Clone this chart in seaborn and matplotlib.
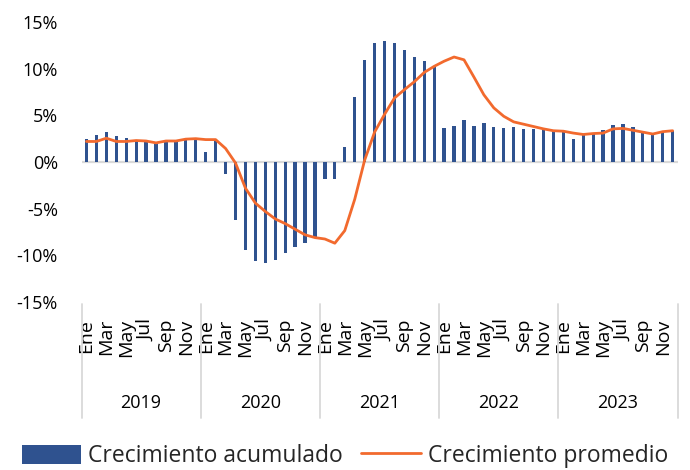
import numpy as np
import pandas as pd
import matplotlib
matplotlib.use("Agg")
import matplotlib.pyplot as plt
import matplotlib.transforms as mtransforms
from matplotlib.patches import Patch
from matplotlib.lines import Line2D
from matplotlib.ticker import FuncFormatter
import seaborn as sns

years = ["2019", "2020", "2021", "2022", "2023"]
months = ["Ene", "Feb", "Mar", "Abr", "May", "Jun", "Jul", "Ago", "Sep", "Oct", "Nov", "Dic"]

acumulado = [
    2.5, 2.9, 3.25, 2.8, 2.6, 2.2, 2.2, 1.95, 2.2, 2.2, 2.45, 2.45,
    1.05, 2.2, -1.3, -6.2, -9.4, -10.6, -10.8, -10.5, -9.75, -9.1, -8.7, -8.0,
    -1.8, -1.8, 1.65, 7.0, 10.9, 12.8, 13.0, 12.8, 12.0, 11.3, 10.85, 10.25,
    3.6, 3.9, 4.55, 3.9, 4.2, 3.7, 3.6, 3.7, 3.55, 3.55, 3.4, 3.3,
    3.2, 2.5, 2.95, 3.1, 3.45, 3.95, 4.05, 3.8, 3.3, 3.0, 3.2, 3.35,
]
promedio = [
    2.2, 2.2, 2.55, 2.2, 2.2, 2.3, 2.25, 2.05, 2.25, 2.25, 2.45, 2.5,
    2.4, 2.4, 1.45, -0.1, -2.8, -4.4, -5.3, -6.1, -6.6, -7.2, -7.8, -8.1,
    -8.25, -8.7, -7.35, -4.0, 0.2, 3.2, 5.1, 6.85, 7.75, 8.6, 9.6, 10.25,
    10.8, 11.25, 10.95, 9.1, 7.2, 5.8, 4.9, 4.3, 4.05, 3.8, 3.55, 3.35,
    3.3, 3.1, 2.95, 3.05, 3.1, 3.55, 3.6, 3.4, 3.2, 3.0, 3.25, 3.35,
]

n = len(acumulado)
df = pd.DataFrame({
    "idx": np.arange(n),
    "year": [y for y in years for _ in months],
    "month": months * len(years),
    "acumulado": acumulado,
    "promedio": promedio,
})

sns.set_theme(style="white")
plt.rcParams["font.family"] = ["Open Sans", "DejaVu Sans"]

BLUE = "#2F528F"
ORANGE = "#F26A2E"
GREY = "#D9D9D9"
TXT = "#000000"

fig = plt.figure(figsize=(6.9, 4.7), dpi=100)
ax = fig.add_axes([81.5 / 690, 1 - 302 / 470, (677.6 - 81.5) / 690, 280 / 470])

ax.axhline(0, color=GREY, lw=1.6, zorder=1)
sns.barplot(data=df, x="idx", y="acumulado", native_scale=True, width=0.33,
            color=BLUE, saturation=1, linewidth=0, ax=ax, zorder=2)
sns.lineplot(data=df, x="idx", y="promedio", color=ORANGE, lw=2.0, ax=ax, zorder=3)

ax.set_xlim(-0.5, n - 0.5)
ax.set_ylim(-15, 15)
ax.set_yticks(np.arange(-15, 16, 5))
ax.yaxis.set_major_formatter(FuncFormatter(lambda v, p: f"{v:.0f}%"))
ax.tick_params(axis="y", length=0, pad=17, labelsize=13, labelcolor=TXT)

tick_idx = df["idx"][::2].tolist()
ax.set_xticks(tick_idx)
ax.set_xticklabels(df["month"][::2].tolist(), rotation=90, va="top", ha="center")
ax.tick_params(axis="x", length=0, pad=12, labelsize=14, labelcolor=TXT)
ax.set_xlabel("")
ax.set_ylabel("")
for s in ax.spines.values():
    s.set_visible(False)

trans = mtransforms.blended_transform_factory(ax.transData, ax.transAxes)
per_year = len(months)
for k, y in enumerate(years):
    start = k * per_year - 0.5
    ax.text(start + per_year / 2, -0.362, y, transform=trans, ha="center",
            va="center", fontsize=13, color=TXT)
for k in range(len(years) + 1):
    xb = k * per_year - 0.5
    ax.add_line(Line2D([xb, xb], [-0.007, -0.414], transform=trans,
                       color=GREY, lw=1.3, clip_on=False))

handles = [Patch(facecolor=BLUE, edgecolor="none"),
           Line2D([0], [0], color=ORANGE, lw=2.0)]
fig.legend(handles, ["Crecimiento acumulado", "Crecimiento promedio"],
           loc="lower center", bbox_to_anchor=(0.5, -0.04), ncol=2, frameon=False,
           fontsize=16.5, handlelength=2.6, handleheight=0.9, columnspacing=0.8,
           handletextpad=0.3)

fig.savefig("out.png", dpi=100)
